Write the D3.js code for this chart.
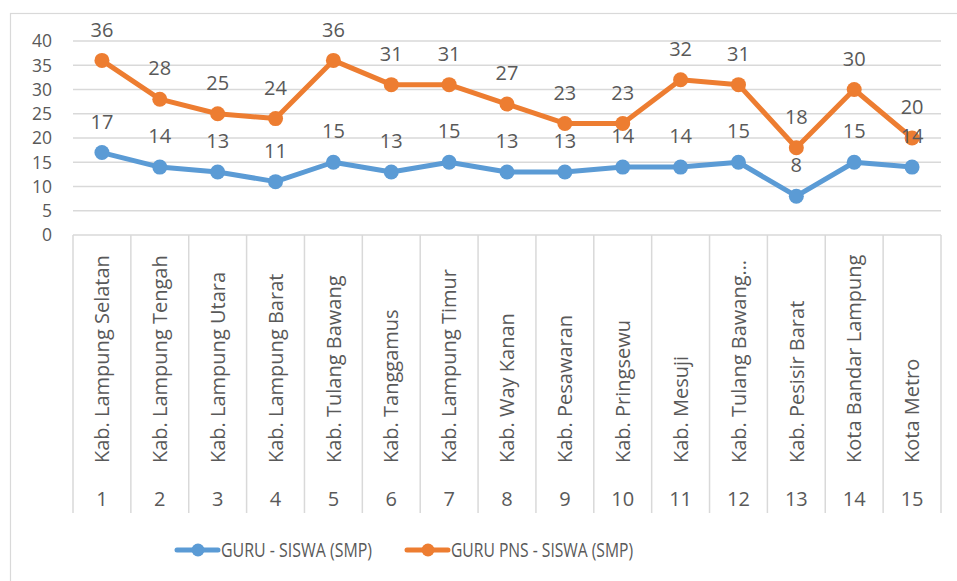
<!DOCTYPE html>
<html><head><meta charset="utf-8">
<script src="https://cdn.jsdelivr.net/npm/d3@7/dist/d3.min.js"></script>
<style>body{margin:0;background:#fff}svg{display:block}text{font-family:"Open Sans",sans-serif;fill:#595959}</style>
</head><body>
<svg id="c" width="957" height="581"></svg>
<script>
const categories = ["Kab. Lampung Selatan","Kab. Lampung Tengah","Kab. Lampung Utara","Kab. Lampung Barat","Kab. Tulang Bawang","Kab. Tanggamus","Kab. Lampung Timur","Kab. Way Kanan","Kab. Pesawaran","Kab. Pringsewu","Kab. Mesuji","Kab. Tulang Bawang…","Kab. Pesisir Barat","Kota Bandar Lampung","Kota Metro"];
const numbers = ["1","2","3","4","5","6","7","8","9","10","11","12","13","14","15"];
const guruSiswa = [17,14,13,11,15,13,15,13,13,14,14,15,8,15,14];
const guruPnsSiswa = [36,28,25,24,36,31,31,27,23,23,32,31,18,30,20];
const yTicks = [0,5,10,15,20,25,30,35,40];
const seriesNames = ["GURU - SISWA (SMP)","GURU PNS - SISWA (SMP)"];
const colors = ["#5B9BD5","#ED7D31"];

const FS = 20;
const svg = d3.select("#c");
svg.append("rect").attr("x",10.5).attr("y",13.5).attr("width",1000).attr("height",1000)
  .attr("fill","none").attr("stroke","#D9D9D9").attr("stroke-width",1.2);

const x = d3.scaleBand().domain(numbers).range([73,941]);
const y = d3.scaleLinear().domain([0,40]).range([235,41]);
const cx = i => x(numbers[i]) + x.bandwidth()/2;

// gridlines
svg.append("g").selectAll("line").data(yTicks.filter(d=>d>0)).join("line")
  .attr("x1",73).attr("x2",941).attr("y1",d=>y(d)).attr("y2",d=>y(d))
  .attr("stroke","#D9D9D9").attr("stroke-width",1.5);
// y axis labels
svg.append("g").selectAll("text").data(yTicks).join("text")
  .attr("x",52).attr("y",d=>y(d)).attr("dy","0.36em").attr("text-anchor","end")
  .attr("font-size",17.5).text(d=>d);

// x axis line and separators
svg.append("line").attr("x1",73).attr("x2",941).attr("y1",235).attr("y2",235)
  .attr("stroke","#D9D9D9").attr("stroke-width",1.5);
const bounds = numbers.map(n=>x(n)).concat([941]);
svg.append("g").selectAll("line").data(bounds).join("line")
  .attr("x1",d=>d).attr("x2",d=>d).attr("y1",235).attr("y2",513)
  .attr("stroke","#D9D9D9").attr("stroke-width",1.5);

// category labels
svg.append("g").selectAll("text").data(categories).join("text")
  .attr("transform",(d,i)=>`translate(${cx(i)},463) rotate(-90)`)
  .attr("dy","0.36em").attr("text-anchor","start").attr("font-size",FS)
  .attr("x",0).text(d=>d);
// numbers
svg.append("g").selectAll("text").data(numbers).join("text")
  .attr("x",(d,i)=>cx(i)).attr("y",499).attr("dy","0.36em").attr("text-anchor","middle")
  .attr("font-size",FS).text(d=>d);

// lines
const seriesData = [guruSiswa, guruPnsSiswa];
const line = d3.line().x((d,i)=>cx(i)).y(d=>y(d));
seriesData.forEach((s,k)=>{
  svg.append("path").datum(s).attr("d",line).attr("fill","none")
    .attr("stroke",colors[k]).attr("stroke-width",5).attr("stroke-linejoin","round");
  svg.append("g").selectAll("circle").data(s).join("circle")
    .attr("cx",(d,i)=>cx(i)).attr("cy",d=>y(d)).attr("r",7.5).attr("fill",colors[k]);
});
seriesData.forEach((s,k)=>{
  svg.append("g").selectAll("text").data(s).join("text")
    .attr("x",(d,i)=>cx(i)).attr("y",d=>y(d)-31).attr("dy","0.36em").attr("text-anchor","middle")
    .attr("font-size",FS).text(d=>d);
});

// legend
const legendItems = [{x:177,tx:221,w:151},{x:407,tx:451,w:182}];
legendItems.forEach((L,k)=>{
  svg.append("line").attr("x1",L.x).attr("x2",L.x+41).attr("y1",550).attr("y2",550)
    .attr("stroke",colors[k]).attr("stroke-width",5).attr("stroke-linecap","round");
  svg.append("circle").attr("cx",L.x+21).attr("cy",550).attr("r",6.5).attr("fill",colors[k]);
  svg.append("text").attr("x",L.tx).attr("y",550).attr("dy","0.36em").attr("font-size",FS)
    .attr("textLength",L.w).attr("lengthAdjust","spacingAndGlyphs").text(seriesNames[k]);
});
</script>
</body></html>
